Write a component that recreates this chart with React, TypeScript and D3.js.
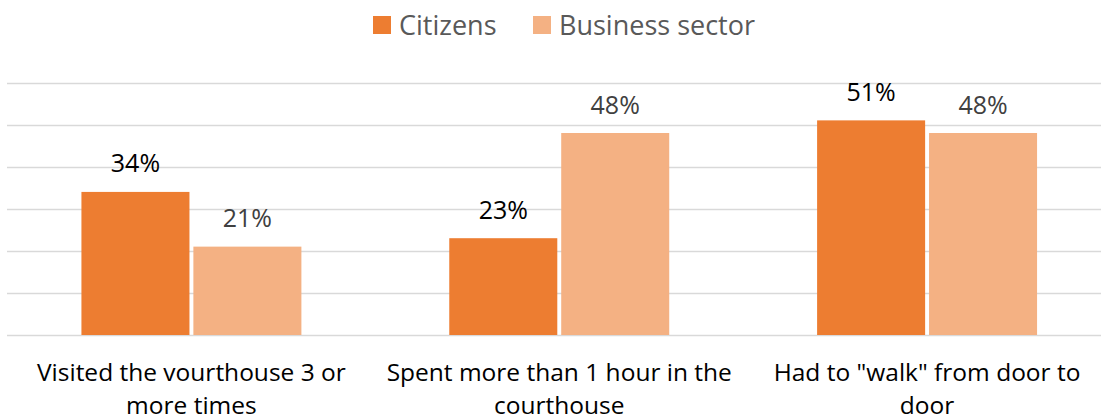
import React, { useEffect, useRef } from "react";
import * as d3 from "d3";

const categories = [
  "Visited the vourthouse 3 or more times",
  "Spent more than 1 hour in the courthouse",
  'Had to "walk" from door to door',
];
const seriesNames = ["Citizens", "Business sector"];
const citizens = [34, 23, 51];
const business = [21, 48, 48];
const yTicks = [0, 10, 20, 30, 40, 50, 60];

const colors = ["#ED7D31", "#F4B183"];
const labelColors = ["#000000", "#404040"];
const FONT = "'Open Sans', 'Noto Sans', sans-serif";

const W = 1101;
const H = 420;

export default function App() {
  const ref = useRef<SVGSVGElement | null>(null);

  useEffect(() => {
    const svg = d3.select(ref.current);
    svg.selectAll("*").remove();

    const x0 = d3
      .scaleBand<string>()
      .domain(categories)
      .range([7.5, 1111])
      .paddingInner(0.402)
      .paddingOuter(0.201);
    const x1 = d3
      .scaleBand<string>()
      .domain(seriesNames)
      .range([0, x0.bandwidth()])
      .paddingInner(0.035);
    const y = d3.scaleLinear().domain([0, 60]).range([335, 82.5]);

    svg
      .append("g")
      .selectAll("line")
      .data(yTicks)
      .join("line")
      .attr("x1", 7)
      .attr("x2", W)
      .attr("y1", (d) => Math.round(y(d)) + 0.5)
      .attr("y2", (d) => Math.round(y(d)) + 0.5)
      .attr("stroke", "#D9D9D9")
      .attr("stroke-width", 1.5);

    const data = categories.map((c, i) => ({
      cat: c,
      vals: [
        { s: seriesNames[0], v: citizens[i], k: 0 },
        { s: seriesNames[1], v: business[i], k: 1 },
      ],
    }));

    const g = svg
      .append("g")
      .selectAll("g")
      .data(data)
      .join("g")
      .attr("transform", (d) => `translate(${x0(d.cat)},0)`);

    g.selectAll("rect")
      .data((d) => d.vals)
      .join("rect")
      .attr("x", (d) => x1(d.s)!)
      .attr("width", x1.bandwidth())
      .attr("y", (d) => y(d.v))
      .attr("height", (d) => y(0) - y(d.v))
      .attr("fill", (d) => colors[d.k]);

    g.selectAll("text.val")
      .data((d) => d.vals)
      .join("text")
      .attr("class", "val")
      .attr("x", (d) => x1(d.s)! + x1.bandwidth() / 2)
      .attr("y", (d) => y(d.v) - 19.5)
      .attr("text-anchor", "middle")
      .attr("font-family", FONT)
      .attr("font-size", 25)
      .attr("fill", (d) => labelColors[d.k])
      .text((d) => d.v + "%");

    const maxW = 355;
    const base = 381;
    categories.forEach((c) => {
      const cx = x0(c)! + x0.bandwidth() / 2;
      const t = svg
        .append("text")
        .attr("x", cx)
        .attr("y", base)
        .attr("text-anchor", "middle")
        .attr("font-family", FONT)
        .attr("font-size", 24.5)
        .attr("fill", "#000000");
      const words = c.split(" ");
      let line: string[] = [];
      let lineNo = 0;
      let tspan = t.append("tspan").attr("x", cx).attr("y", base);
      for (const w of words) {
        line.push(w);
        tspan.text(line.join(" "));
        if ((tspan.node() as SVGTSpanElement).getComputedTextLength() > maxW && line.length > 1) {
          line.pop();
          tspan.text(line.join(" "));
          line = [w];
          lineNo++;
          tspan = t
            .append("tspan")
            .attr("x", cx)
            .attr("y", base + lineNo * 33)
            .text(w);
        }
      }
    });

    const legend = svg.append("g");
    const items = [
      { name: seriesNames[0], x: 373 },
      { name: seriesNames[1], x: 533 },
    ];
    items.forEach((it, i) => {
      legend
        .append("rect")
        .attr("x", it.x)
        .attr("y", 16)
        .attr("width", 18)
        .attr("height", 18)
        .attr("fill", colors[i]);
      legend
        .append("text")
        .attr("x", it.x + 26)
        .attr("y", 35)
        .attr("font-family", FONT)
        .attr("font-size", 27)
        .attr("fill", "#595959")
        .text(it.name);
    });
  }, []);

  return (
    <svg
      ref={ref}
      width={W}
      height={H}
      style={{ display: "block", position: "absolute", left: 0, top: 0 }}
    />
  );
}
